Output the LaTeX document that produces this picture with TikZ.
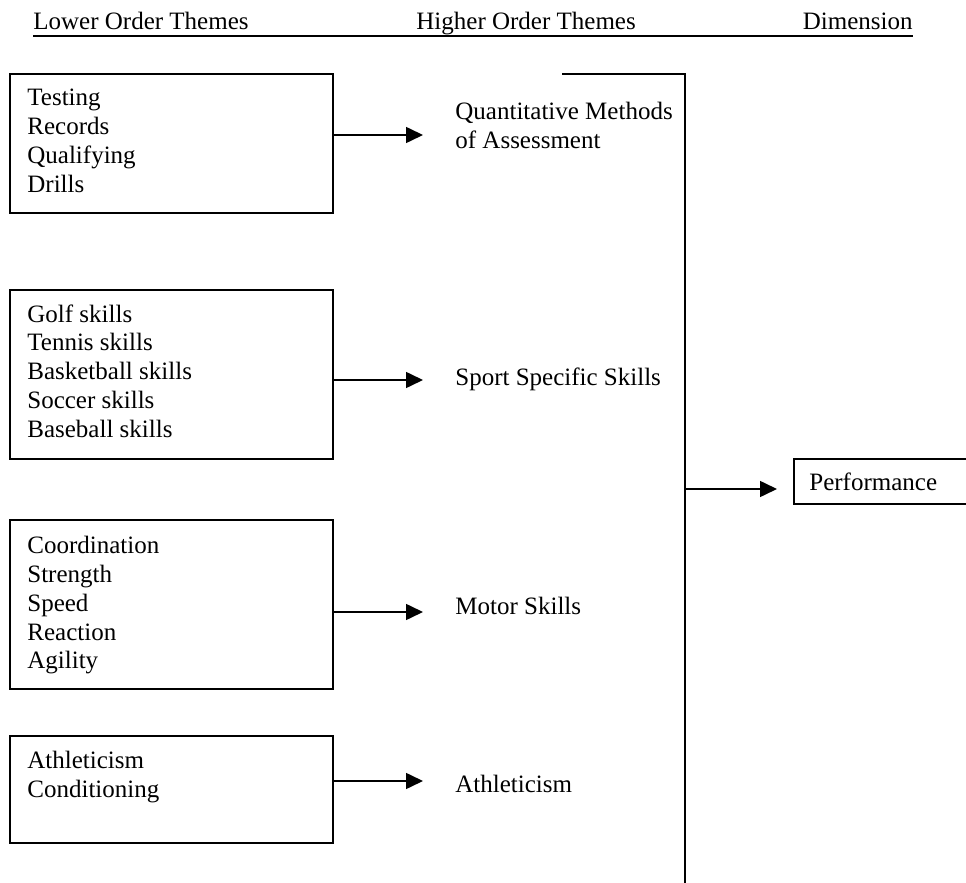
\documentclass[tikz,border=0pt]{standalone}
\usepackage{fontspec}
\setmainfont{Liberation Serif}
\usetikzlibrary{arrows.meta,calc}

\tikzset{
  themebox/.style={draw, line width=0.8pt, rectangle, anchor=north west, inner sep=0pt},
  listtext/.style={anchor=north west, inner sep=0pt, align=left,
    font=\fontsize{12.5pt}{14.4pt}\selectfont},
  themetext/.style={anchor=north west, inner sep=0pt, align=left,
    font=\fontsize{12.5pt}{14.4pt}\selectfont},
  headtext/.style={anchor=base west, inner sep=0pt,
    font=\fontsize{12.5pt}{14.4pt}\selectfont},
  conn/.style={line width=0.8pt, -{Triangle[length=8.5pt,width=8pt]}},
  plainline/.style={line width=0.8pt}
}

\begin{document}
\begin{tikzpicture}[x=0.5pt,y=-0.5pt]
  \useasboundingbox (0,0) rectangle (966,883);

  % column headings
  \node[headtext] (hlow)  at (33,30)  {Lower Order Themes};
  \node[headtext] (hhigh) at (416,30) {Higher Order Themes};
  \node[headtext, anchor=base east] (hdim) at (913,30) {Dimension};
  \draw[plainline] ([yshift=-3]hlow.base west) -- ([yshift=-3]hdim.base east);

  % lower order theme boxes
  \node[themebox, minimum width=323*0.5pt, minimum height=139*0.5pt] (b1) at (9,73)  {};
  \node[themebox, minimum width=323*0.5pt, minimum height=169*0.5pt] (b2) at (9,289) {};
  \node[themebox, minimum width=323*0.5pt, minimum height=169*0.5pt] (b3) at (9,519) {};
  \node[themebox, minimum width=323*0.5pt, minimum height=107*0.5pt] (b4) at (9,735) {};

  \node[listtext] (t1) at (27,89)  {Testing\\Records\\Qualifying\\Drills};
  \node[listtext] (t2) at (27,304) {Golf skills\\Tennis skills\\Basketball skills\\Soccer skills\\Baseball skills};
  \node[listtext] (t3) at (27,536) {Coordination\\Strength\\Speed\\Reaction\\Agility};
  \node[listtext] (t4) at (27,751) {Athleticism\\Conditioning};

  % higher order themes
  \node[themetext] (q1) at (455,102) {Quantitative Methods\\of Assessment};
  \node[themetext] (q2) at (455,367) {Sport Specific Skills};
  \node[themetext] (q3) at (455,597) {Motor Skills};
  \node[themetext] (q4) at (455,775) {Athleticism};

  % arrows from boxes to themes
  \coordinate (e1) at (423,135);
  \coordinate (e2) at (423,380);
  \coordinate (e3) at (423,612);
  \coordinate (e4) at (423,781);
  \draw[conn] (b1.east |- e1) -- (e1);
  \draw[conn] (b2.east |- e2) -- (e2);
  \draw[conn] (b3.east |- e3) -- (e3);
  \draw[conn] (b4.east |- e4) -- (e4);

  % bracket collecting the themes
  \coordinate (bt) at (562,74);
  \coordinate (bc) at (685,74);
  \coordinate (bb) at (685,885);
  \draw[plainline] (bt) -- (bc) -- (bb);

  % dimension
  \node[draw, line width=0.8pt, anchor=north west, minimum width=200*0.5pt,
        minimum height=45*0.5pt, inner sep=0pt] (perf) at (793,458) {};
  \node[headtext] (ptext) at (809,490) {Performance};
  \coordinate (pa) at (685,489);
  \draw[conn] (pa) -- ([xshift=-8pt]perf.west |- pa);
\end{tikzpicture}
\end{document}
